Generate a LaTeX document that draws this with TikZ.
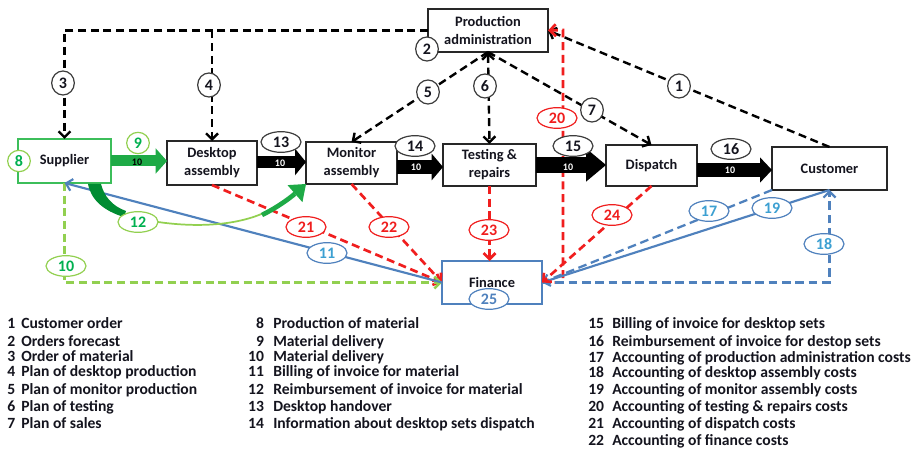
\documentclass[tikz,border=0pt]{standalone}
\usepackage{fontspec}
\setmainfont{Carlito}
\usetikzlibrary{arrows.meta,calc,shapes.geometric}
\definecolor{boxgray}{RGB}{40,40,40}
\definecolor{labgray}{RGB}{60,60,60}
\definecolor{red0}{RGB}{240,30,30}
\definecolor{blue0}{RGB}{79,129,189}
\definecolor{cyan0}{RGB}{60,160,210}
\definecolor{lgreen}{RGB}{146,208,80}
\definecolor{dgreen}{RGB}{0,176,80}
\definecolor{supgreen}{RGB}{60,190,90}
\definecolor{arrgreen}{RGB}{30,170,70}
\definecolor{gdark}{RGB}{0,140,50}
\definecolor{txt}{RGB}{20,20,30}
\begin{document}
\begin{tikzpicture}[x=0.75pt,y=-0.75pt,
  every node/.style={font=\bfseries\fontsize{10.8pt}{13.5pt}\selectfont},
  >={Straight Barb[length=4.5pt,width=9pt]},
  box/.style={draw=boxgray, line width=1.1pt, fill=white, align=center, inner sep=0pt, outer sep=0pt, text=txt},
  lab/.style={ellipse, fill=white, line width=0.9pt, inner sep=0pt, outer sep=0pt, font=\bfseries\fontsize{12pt}{13pt}\selectfont},
  circ/.style={lab, draw=labgray, text=txt, minimum width=17pt, minimum height=18pt},
  oval/.style={lab, minimum width=30pt, minimum height=15.5pt},
  ovk/.style={oval, draw=labgray, text=txt},
  ovr/.style={oval, draw=red0, text=red0},
  ovb/.style={oval, draw=blue0, text=cyan0},
  ovg/.style={oval, draw=lgreen, text=dgreen},
  cg/.style={lab, draw=lgreen, text=dgreen, minimum width=17pt, minimum height=16pt},
  bdash/.style={draw=black, line width=1.8pt, dash pattern=on 6pt off 3.5pt},
  rdash/.style={draw=red0, line width=2pt, dash pattern=on 6pt off 3.5pt},
  bldash/.style={draw=blue0, line width=1.7pt, dash pattern=on 6.5pt off 3.5pt},
  blsolid/.style={draw=blue0, line width=1.6pt},
  gdash/.style={draw=lgreen, line width=1.8pt, dash pattern=on 6pt off 3.5pt},
  blk/.style={draw=black},
  ten/.style={font=\bfseries\fontsize{7.5pt}{8pt}\selectfont, inner sep=0pt},
  leg/.style={anchor=base west, inner sep=0pt, text=txt, font=\bfseries\fontsize{11.7pt}{13.5pt}\selectfont}
]
\useasboundingbox[fill=white] (0,0) rectangle (922,449);

% boxes
\node[box, minimum width=69.75pt, minimum height=33pt, draw=supgreen] (sup) at (64.5,161) {Supplier};
\node[box, minimum width=67.5pt, minimum height=33pt] (desk) at (212,163) {Desktop\\assembly};
\node[box, minimum width=68.25pt, minimum height=31.5pt] (mon) at (351.5,163) {Monitor\\assembly};
\node[box, minimum width=69.75pt, minimum height=31.5pt] (test) at (489.5,165) {Testing \&\\repairs};
\node[box, minimum width=68.25pt, minimum height=30.75pt] (disp) at (651.5,165.5) {Dispatch};
\node[box, minimum width=86.25pt, minimum height=32.25pt] (cust) at (829.5,168.5) {Customer};
\node[box, minimum width=90pt, minimum height=32.25pt] (prod) at (488,30.5) {Production\\administration};
\node[box, minimum width=75pt, minimum height=32.25pt, draw=blue0] (fin) at (492,282.5) {Finance};

% black dashed control lines
\draw[bdash,->] (prod.west) -| (sup.north);
\draw[bdash,->] (desk.north |- prod.west) -- (desk.north);
\draw[bdash,->] (prod.south) -- (mon.north);
\draw[bdash,<->] (prod.south) -- (test.north);
\draw[bdash,->] (prod.south) -- (disp.north);
\draw[bdash,->] (cust.north) -- (prod.east);

% red dashed
\draw[rdash,->] (fin.east) -| (563,30) -- (prod.east);
\draw[rdash,->] (desk.south) -- (fin.west);
\draw[rdash,->] (mon.south) -- (fin.west);
\draw[rdash,->] (test.south) -- (test.south |- fin.north);

% green dashed, blue
\draw[gdash,->] (sup.south) |- (fin.west);
\draw[blsolid,->] (fin.west) -- (sup.south);
\draw[bldash] (cust.south west) -- (fin.east);
\draw[blsolid,->] (cust.south) -- (fin.east);
\draw[bldash,->] (fin.east) -| (cust.south);
\draw[rdash,->] (disp.south) -- (fin.east);

% block arrows
\draw[arrgreen, line width=8.25pt, -{Triangle[length=8.5pt,width=19pt,line width=0pt]}] (sup.east) -- (desk.west |- sup.east);
\draw[blk, line width=9pt, -{Triangle[length=8.25pt,width=20pt,line width=0pt]}] (desk.east |- 0,162) -- (mon.west |- 0,162);
\draw[blk, line width=10.5pt, -{Triangle[length=8.5pt,width=20pt,line width=0pt]}] (mon.east |- 0,167) -- (test.west |- 0,167);
\draw[blk, line width=12pt, -{Triangle[length=15pt,width=25pt,line width=0pt]}] (test.east |- 0,165) -- (disp.west |- 0,165);
\draw[blk, line width=10.5pt, -{Triangle[length=9pt,width=19pt,line width=0pt]}] (disp.east |- 0,170) -- (cust.west |- 0,170);
\node[ten, text=black] (a9) at (137,162) {10};
\node[ten, text=white] (a13) at (280,163) {10};
\node[ten, text=white] (a14) at (416,167) {10};
\node[ten, text=white] (a15) at (568,167) {10};
\node[ten, text=white] (a16) at (730,170) {10};

% curved arrow 12
\fill[gdark] (88,184) .. controls (91,200) and (104,211) .. (124,217) -- (126,211) .. controls (112,206) and (104,196) .. (101,184) -- cycle;
\node[ovg] (n12) at (138,222) {12};
\draw[lgreen, line width=1.3pt] (n12.east) .. controls (200,228) and (240,225) .. (268,211);
\draw[arrgreen, line width=3.5pt, -{Triangle[length=11pt,width=17pt,line width=0pt]}] (262,215) .. controls (278,207) and (290,198) .. (mon.south west);

% labels
\node[circ] (n3) at (63,83) {3};
\node[circ] (n4) at (209,85) {4};
\node[circ] (n2) at (427,49) {2};
\node[circ] (n5) at (428,92) {5};
\node[circ] (n6) at (485,86) {6};
\node[circ] (n7) at (592,110) {7};
\node[circ] (n1) at (679,86) {1};
\node[ovr] (n20) at (557,118) {20};
\node[ovk] (n13) at (281,142) {13};
\node[ovk] (n14) at (415,146) {14};
\node[ovk] (n15) at (573,146) {15};
\node[ovk] (n16) at (731,149) {16};
\node[cg] (n9) at (138,143) {9};
\node[cg] (n8) at (19,161) {8};
\node[ovg] (n10) at (66,266) {10};
\node[ovb] (n11) at (327,253) {11};
\node[ovr] (n21) at (306,227) {21};
\node[ovr] (n22) at (389,227) {22};
\node[ovr] (n23) at (489,230) {23};
\node[ovr] (n24) at (612,215) {24};
\node[ovb] (n17) at (709,211) {17};
\node[ovb] (n19) at (772,208) {19};
\node[ovb] (n18) at (824,244) {18};
\node[oval, draw=blue0, text=blue0] (n25) at (489,299) {25};

% legend
\node[leg] (l1) at (7,329) {\makebox[10.5pt][l]{1}Customer order};
\node[leg] (l2) at (7,346) {\makebox[10.5pt][l]{2}Orders forecast};
\node[leg] (l3) at (7,362) {\makebox[10.5pt][l]{3}Order of material};
\node[leg] (l4) at (7,377) {\makebox[10.5pt][l]{4}Plan of desktop production};
\node[leg] (l5) at (7,394) {\makebox[10.5pt][l]{5}Plan of monitor production};
\node[leg] (l6) at (7,411) {\makebox[10.5pt][l]{6}Plan of testing};
\node[leg] (l7) at (7,428) {\makebox[10.5pt][l]{7}Plan of sales};

\node[leg] (l8) at (249,329) {\makebox[11pt][r]{8}\hspace{7pt}Production of material};
\node[leg] (l9) at (249,346) {\makebox[11pt][r]{9}\hspace{7pt}Material delivery};
\node[leg] (l10) at (249,362) {\makebox[11pt][r]{10}\hspace{7pt}Material delivery};
\node[leg] (l11) at (249,377) {\makebox[11pt][r]{11}\hspace{7pt}Billing of invoice for material};
\node[leg] (l12) at (249,394) {\makebox[11pt][r]{12}\hspace{7pt}Reimbursement of invoice for material};
\node[leg] (l13) at (249,411) {\makebox[11pt][r]{13}\hspace{7pt}Desktop handover};
\node[leg] (l14) at (249,428) {\makebox[11pt][r]{14}\hspace{7pt}Information about desktop sets dispatch};

\node[leg] (l15) at (588,329) {\makebox[18pt][l]{15}Billing of invoice for desktop sets};
\node[leg] (l16) at (588,346) {\makebox[18pt][l]{16}Reimbursement of invoice for destop sets};
\node[leg] (l17) at (588,363) {\makebox[18pt][l]{17}Accounting of production administration costs};
\node[leg] (l18) at (588,378) {\makebox[18pt][l]{18}Accounting of desktop assembly costs};
\node[leg] (l19) at (588,394) {\makebox[18pt][l]{19}Accounting of monitor assembly costs};
\node[leg] (l20) at (588,411) {\makebox[18pt][l]{20}Accounting of testing \& repairs costs};
\node[leg] (l21) at (588,428) {\makebox[18pt][l]{21}Accounting of dispatch costs};
\node[leg] (l22) at (588,445) {\makebox[18pt][l]{22}Accounting of finance costs};
\end{tikzpicture}
\end{document}
